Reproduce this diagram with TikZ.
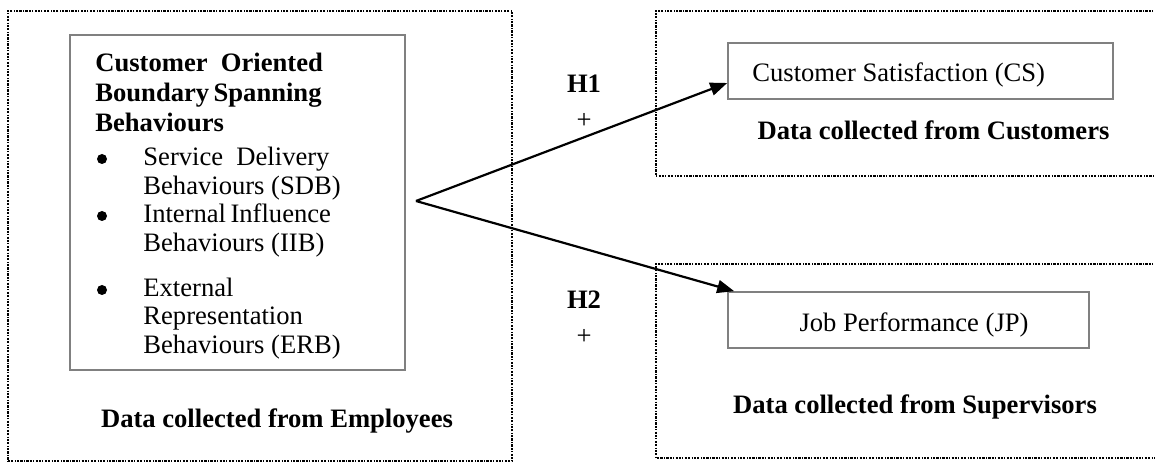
\documentclass[tikz,border=0pt]{standalone}
\usepackage{fontspec}
\setmainfont{Liberation Serif}
\usetikzlibrary{arrows.meta,calc}
\begin{document}
\begin{tikzpicture}[x=0.5pt,y=-0.5pt,
  txt/.style={font=\fontsize{13.3}{16}\selectfont, inner sep=0pt},
  bft/.style={font=\fontsize{13.3}{16}\selectfont\bfseries, inner sep=0pt},
  grp/.style={line width=1.4pt, dash pattern=on 1.1pt off 0.5pt on 1.1pt off 0.7pt on 0.5pt off 0.7pt},
  cbox/.style={draw=black!50, line width=0.8pt, inner sep=0pt},
  bul/.style={circle, fill=black, inner sep=0pt, minimum size=5pt},
  arr/.style={line width=1.1pt, -{Triangle[length=8.5pt,width=6.5pt]}}]
\useasboundingbox (0,0) rectangle (1155,464);
% group frames
\node[grp, draw, minimum width=252pt, minimum height=225pt, inner sep=0pt] (emp) at (260,236) {};
\draw[grp] (1160,11) -| (656,176) -- (1160,176);
\draw[grp] (1160,264) -| (656,458) -- (1160,458);
% construct boxes
\node[cbox, minimum width=167.5pt, minimum height=167.5pt] (cobsb) at (237.5,202.5) {};
\node[cbox, minimum width=192.5pt, minimum height=28pt] (cs) at (920.5,71) {};
\node[cbox, minimum width=180.5pt, minimum height=28pt] (jp) at (908.5,320) {};
% texts in the left box
\node[bft, anchor=base west] (t1) at (95,72) {Customer\ \ Oriented};
\node[bft, anchor=base west] (t2) at (95,102) {Boundary\,Spanning};
\node[bft, anchor=base west] (t3) at (95,132) {Behaviours};
\node[bul] (b1) at (102,159) {};
\node[txt, anchor=base west] (s1) at (143,166) {Service\ \ Delivery};
\node[txt, anchor=base west] (s2) at (143,195) {Behaviours (SDB)};
\node[bul] (b2) at (102,216) {};
\node[txt, anchor=base west] (i1) at (143,223) {Internal\,Influence};
\node[txt, anchor=base west] (i2) at (143,252) {Behaviours (IIB)};
\node[bul] (b3) at (102,290) {};
\node[txt, anchor=base west] (e1) at (143,297) {External};
\node[txt, anchor=base west] (e2) at (143,325) {Representation};
\node[txt, anchor=base west] (e3) at (143,353) {Behaviours (ERB)};
\node[bft, anchor=base] (dEmp) at (277,427) {Data collected from Employees};
% right texts
\node[txt, anchor=base west] (csT) at (752,82) {Customer Satisfaction (CS)};
\node[bft, anchor=base] (dCus) at (933.5,140) {Data collected from Customers};
\node[txt, anchor=base] (jpT) at (914,332) {Job Performance (JP)};
\node[bft, anchor=base] (dSup) at (915,413) {Data collected from Supervisors};
% hypotheses
\node[bft, anchor=base] (h1) at (584,93) {H1};
\node[txt] (p1) at (584,121) {+};
\node[bft, anchor=base] (h2) at (584,309) {H2};
\node[txt] (p2) at (584,337) {+};
% arrows
\coordinate (apex) at (416,201);
\draw[arr] (apex) -- ([yshift=-6pt]cs.west);
\draw[arr] (apex) -- ([xshift=3.5pt]jp.north west);
\end{tikzpicture}
\end{document}
